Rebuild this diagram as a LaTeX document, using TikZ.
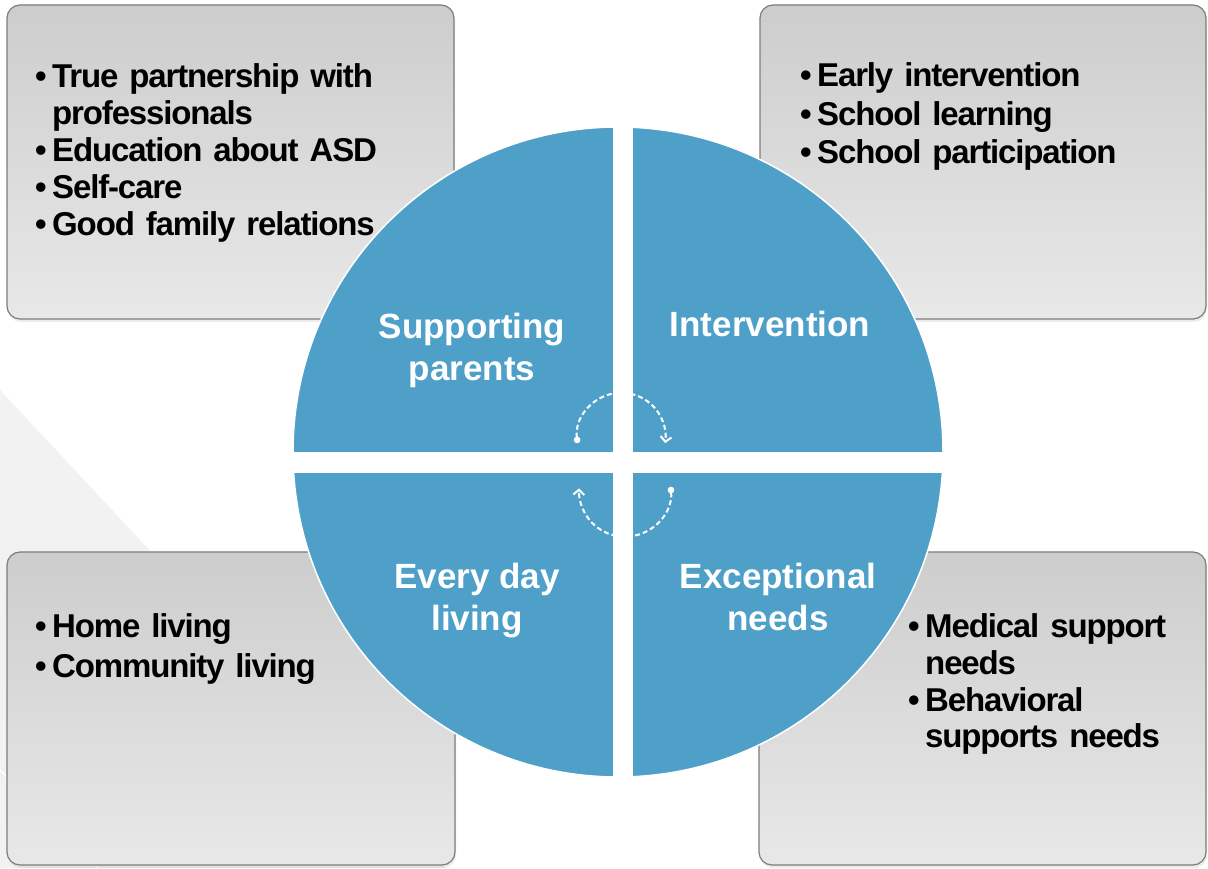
\documentclass[tikz,border=0pt]{standalone}
\usepackage{fontspec}
\setmainfont{Liberation Sans}
\newfontfamily\listfont{Liberation Sans}[LetterSpace=-3.5,WordSpace=0.75]
\usetikzlibrary{arrows.meta,shadows}

\definecolor{quad}{RGB}{79,160,201}
\definecolor{boxtop}{RGB}{205,205,205}
\definecolor{boxbot}{RGB}{232,232,232}
\definecolor{boxline}{RGB}{125,125,125}
\definecolor{backgr}{RGB}{242,242,242}

% a bulleted entry, and the next line of a long entry
\newcommand{\bul}[1]{\par\noindent\makebox[17pt][l]{\textbullet}#1}
\newcommand{\cont}[1]{\par\noindent\hspace*{17pt}#1}

\begin{document}
\begin{tikzpicture}[x=1pt,y=1pt,
    listbox/.style={rounded corners=13pt, draw=boxline, line width=1.2pt,
      top color=boxtop, bottom color=boxbot,
      drop shadow={shadow xshift=1pt, shadow yshift=-3pt, opacity=0.15}},
    listtext/.style={anchor=north west, inner sep=0pt, text width=400pt, align=left,
      font=\listfont\bfseries\fontsize{33}{#1}\selectfont},
    listtext/.default=37,
    quadtext/.style={text=white, align=center, font=\bfseries\fontsize{35}{42}\selectfont},
    cyclearrow/.style={white, line width=2pt, dash pattern=on 5pt off 3pt,
      {Circle[length=6.5pt]}-{Straight Barb[length=5pt,width=11pt]}}]
        \useasboundingbox (0,0) rectangle (1208,868);
        \fill[white] (0,0) rectangle (1208,868);

        % faint background band
        \fill[backgr] (0,478) -- (446,0) -- (0,0) -- cycle;
        \draw[white, line width=1.5pt] (0,98) -- (98,0);

        % the four boxes
        \draw[listbox] (7,549) rectangle (454,863);
        \draw[listbox] (760,549) rectangle (1206,863);
        \draw[listbox] (7,3) rectangle (455,316);
        \draw[listbox] (759,3) rectangle (1206,316);

        \node[listtext] (SPL) at (35,818) {\bul{True partnership with}\cont{professionals}\bul{Education about ASD}\bul{Self-care}\bul{Good family relations}};
        \node[listtext=38.5] (IVL) at (800,820) {\bul{Early intervention}\bul{School learning}\bul{School participation}};
        \node[listtext=40] (ELL) at (35,271) {\bul{Home living}\bul{Community living}};
        \node[listtext=36.7] (EXL) at (908,267) {\bul{Medical support}\cont{needs}\bul{Behavioral}\cont{supports needs}};

        % circle cut in four
        \begin{scope}
          \clip (618,416) circle[radius=325];
          \fill[quad] (290,416) rectangle (613,745);
          \fill[quad] (633,416) rectangle (946,745);
          \fill[quad] (290,395) rectangle (613,88);
          \fill[quad] (633,395) rectangle (946,88);
        \end{scope}
        \draw[white, line width=1.5pt] (618,416) circle[radius=325];

        \node[quadtext] (SP) at (472,518) {Supporting\\parents};
        \node[quadtext] (IV) at (770,544) {Intervention};
        \node[quadtext] (EL) at (477,267) {Every day\\living};
        \node[quadtext] (EX) at (778,271) {Exceptional\\needs};

        % turning arrows in the middle
        \coordinate (T1) at (577.6,424.9);
        \coordinate (T2) at (670.7,381.2);
        \draw[cyclearrow] (T1) arc[start angle=188, end angle=-8, radius=44.2];
        \draw[cyclearrow] (T2) arc[start angle=5, end angle=-183, radius=45.9];
\end{tikzpicture}
\end{document}
